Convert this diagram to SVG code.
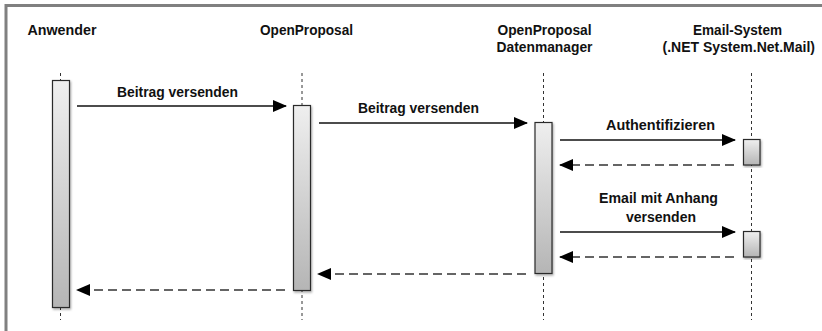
<svg xmlns="http://www.w3.org/2000/svg" width="822" height="331" viewBox="0 0 822 331">
  <style>
    text { font-family: "Liberation Sans", Arial, sans-serif; font-weight: bold; font-size: 14px; fill: #111; }
    .frame { stroke: #808080; stroke-width: 3; fill: none; }
    .life { stroke: #333; stroke-width: 1; stroke-dasharray: 3 3; fill: none; }
    .act { fill: url(#actFill); stroke: #2b2b2b; stroke-width: 1.2; filter: url(#shadow); }
    .call { stroke: #111; stroke-width: 1.5; fill: none; marker-end: url(#head); }
    .ret { stroke: #333; stroke-width: 1.5; stroke-dasharray: 9 5; fill: none; marker-end: url(#head); }
  </style>
  <defs>
    <linearGradient id="actFill" x1="0" y1="0" x2="0" y2="1">
      <stop offset="0" stop-color="#efefef"/>
      <stop offset="1" stop-color="#b5b5b5"/>
    </linearGradient>
    <filter id="shadow" x="-50%" y="-10%" width="200%" height="120%">
      <feDropShadow dx="1" dy="1.5" stdDeviation="1.2" flood-color="#000" flood-opacity="0.35"/>
    </filter>
    <marker id="head" viewBox="0 0 14 12" refX="13" refY="6" markerWidth="14" markerHeight="12" markerUnits="userSpaceOnUse" orient="auto">
      <path d="M0,0 L14,6 L0,12 Z" fill="#000"/>
    </marker>
  </defs>

  <!-- frame edges -->
  <path class="frame" d="M6,331 V5.5 H822"/>

  <!-- lifelines -->
  <g id="lifelines">
    <line class="life" x1="60.5" y1="73" x2="60.5" y2="320"/>
    <line class="life" x1="302" y1="73" x2="302" y2="320"/>
    <line class="life" x1="543.5" y1="73" x2="543.5" y2="320"/>
    <line class="life" x1="751.5" y1="73" x2="751.5" y2="320"/>
  </g>

  <g id="anwender">
    <text x="62" y="35" text-anchor="middle" textLength="69" lengthAdjust="spacingAndGlyphs">Anwender</text>
    <rect class="act" x="52.5" y="80.5" width="17" height="227"/>
  </g>

  <g id="openproposal">
    <text x="306.5" y="35" text-anchor="middle" textLength="93" lengthAdjust="spacingAndGlyphs">OpenProposal</text>
    <rect class="act" x="293.5" y="105.5" width="17" height="185"/>
  </g>

  <g id="datenmanager">
    <text x="544.5" y="35" text-anchor="middle" textLength="94" lengthAdjust="spacingAndGlyphs">OpenProposal</text>
    <text x="544.5" y="52" text-anchor="middle" textLength="96" lengthAdjust="spacingAndGlyphs">Datenmanager</text>
    <rect class="act" x="535" y="122.5" width="17" height="151"/>
  </g>

  <g id="email-system">
    <text x="737.5" y="35" text-anchor="middle" textLength="89" lengthAdjust="spacingAndGlyphs">Email-System</text>
    <text x="815" y="52" text-anchor="end" font-size="12">(.NET System.Net.Mail)</text>
    <rect class="act" x="743.5" y="139.5" width="16.5" height="25.5"/>
    <rect class="act" x="743.5" y="231.5" width="16.5" height="25.5"/>
  </g>

  <!-- messages -->
  <g id="connectors">
    <line class="call" x1="77" y1="106" x2="286" y2="106"/>
    <text x="177.5" y="97" text-anchor="middle" textLength="121" lengthAdjust="spacingAndGlyphs">Beitrag versenden</text>

    <line class="call" x1="319" y1="123" x2="527" y2="123"/>
    <text x="418.5" y="113" text-anchor="middle" textLength="121" lengthAdjust="spacingAndGlyphs">Beitrag versenden</text>

    <line class="call" x1="560" y1="140" x2="735" y2="140"/>
    <text x="660.5" y="130" text-anchor="middle" textLength="109" lengthAdjust="spacingAndGlyphs">Authentifizieren</text>

    <line class="ret" x1="734" y1="165" x2="560" y2="165"/>

    <text x="658.5" y="202.5" text-anchor="middle" textLength="119" lengthAdjust="spacingAndGlyphs">Email mit Anhang</text>
    <text x="661" y="221.5" text-anchor="middle" textLength="70" lengthAdjust="spacingAndGlyphs">versenden</text>
    <line class="call" x1="560" y1="232" x2="735" y2="232"/>

    <line class="ret" x1="734" y1="257" x2="560" y2="257"/>

    <line class="ret" x1="526" y1="274" x2="318" y2="274"/>

    <line class="ret" x1="285" y1="290" x2="77" y2="290"/>
  </g>
</svg>
